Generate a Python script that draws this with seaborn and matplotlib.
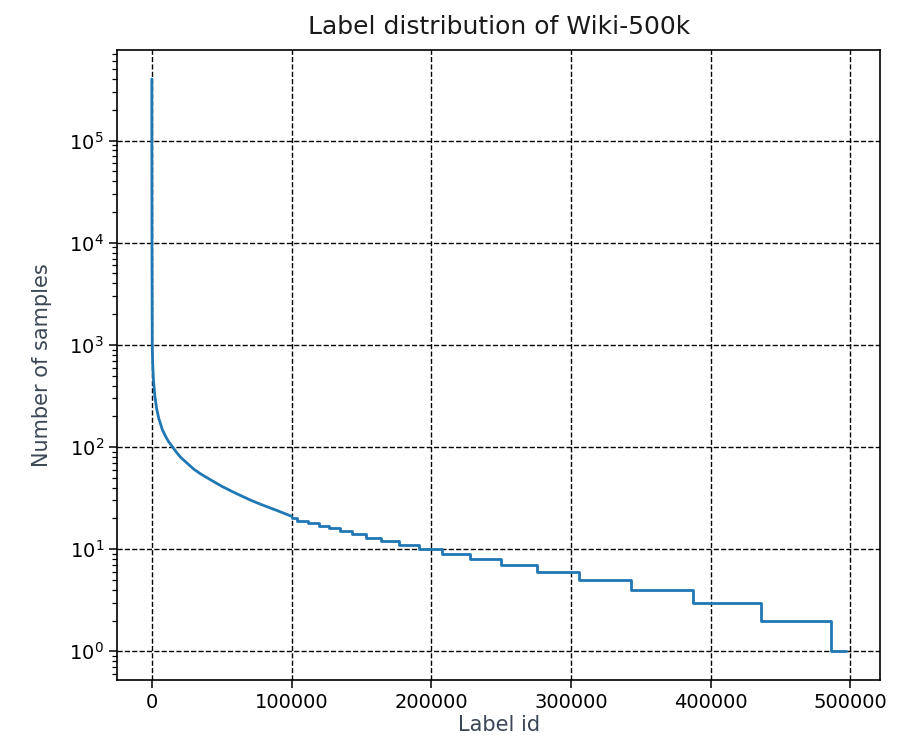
import matplotlib
matplotlib.use("Agg")
import matplotlib.pyplot as plt
from matplotlib.ticker import FixedLocator, LogFormatterSciNotation, NullFormatter
import numpy as np
import pandas as pd
import seaborn as sns

# -- Data ----------------------------------------------------------------------
# smooth head of the distribution (label id, number of samples)
head_ids    = [0, 30, 100, 300, 600, 1200, 2200, 3500, 5000, 7600, 10000, 12000,
               14900, 18000, 21000, 25000, 30000, 35000, 41800, 50000, 60000, 70000,
               77900, 90000, 100000]
head_counts = [400000, 100000, 10000, 1000, 669, 447, 313, 236, 190, 147, 126, 113,
               100, 87.5, 78.4, 70, 60.8, 54.5, 48, 41.3, 35.3, 30.5,
               27.5, 23.8, 21.0]

# step tail: label id where each integer count starts
step_ids    = [100000, 104000, 112000, 119500, 126500, 135000, 143000, 153000, 164000, 177000,
               191000, 208000, 228000, 249600, 275400, 306000, 343000, 387000, 436000, 486000]
step_counts = [20, 19, 18, 17, 16, 15, 14, 13, 12, 11,
               10, 9, 8, 7, 6, 5, 4, 3, 2, 1]
last_id     = 496500

y_ticks = [1, 10, 100, 1000, 10000, 100000]

LINE_COLOR  = "#1f77b4"
LABEL_COLOR = "#3b4756"

sns.set_style("ticks")
plt.rcParams["font.family"] = ["DejaVu Sans"]

head = pd.DataFrame({"label_id": head_ids, "count": head_counts})
tail = pd.DataFrame({"label_id": step_ids + [last_id], "count": step_counts + [step_counts[-1]]})

fig, ax = plt.subplots(figsize=(9.01, 7.53), dpi=100)
fig.subplots_adjust(left=0.130, right=0.977, top=0.933, bottom=0.097)

sns.lineplot(data=head, x="label_id", y="count", ax=ax, color=LINE_COLOR, lw=2)
sns.lineplot(data=tail, x="label_id", y="count", ax=ax, color=LINE_COLOR, lw=2,
             drawstyle="steps-post")

ax.set_yscale("log")
ax.yaxis.set_major_locator(FixedLocator(y_ticks))
ax.yaxis.set_major_formatter(LogFormatterSciNotation())
ax.yaxis.set_minor_formatter(NullFormatter())
ax.grid(True, which="major", color="black", linestyle="--", linewidth=1)
ax.set_axisbelow(True)

for side in ["top", "right", "bottom", "left"]:
    ax.spines[side].set_visible(True)
    ax.spines[side].set_color("black")
    ax.spines[side].set_linewidth(1.2)

ax.tick_params(axis="both", which="major", labelsize=14, length=6, width=1.1,
               color="black", labelcolor="black", direction="out")
ax.tick_params(axis="y", which="minor", length=3.5, width=0.9, color="black")

ax.set_title("Label distribution of Wiki-500k", fontsize=18, pad=12, color="#1a1a1a")
ax.set_xlabel("Label id", fontsize=15, color=LABEL_COLOR, labelpad=2)
ax.set_ylabel("Number of samples", fontsize=15, color=LABEL_COLOR, labelpad=12)

fig.savefig("out.png", dpi=100)
